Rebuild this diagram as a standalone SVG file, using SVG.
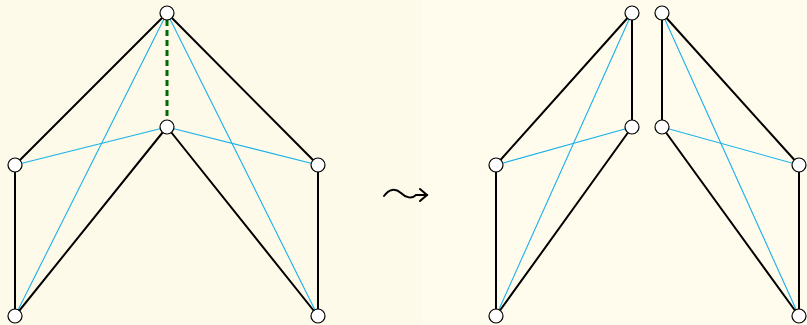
<svg xmlns="http://www.w3.org/2000/svg" width="807" height="325" viewBox="0 0 807 325">
<style>
.bk{stroke:#000;stroke-width:2;fill:none;stroke-linecap:round}
.bl{stroke:#1ab0e8;stroke-width:1.1;fill:none}
.gr{stroke:#006a00;stroke-width:3;fill:none;stroke-dasharray:6,4}
.nd{fill:#fff;stroke:#000;stroke-width:1.2}
</style>
<rect x="0" y="0" width="422" height="325" fill="#fefaea"/>
<rect x="422" y="0" width="385" height="325" fill="#fffcee"/>
<g id="connectors">
<line class="bl" x1="167" y1="13" x2="15" y2="316"/>
<line class="bl" x1="167" y1="13" x2="318" y2="316"/>
<line class="bl" x1="15" y1="165" x2="167" y2="127"/>
<line class="bl" x1="167" y1="127" x2="318" y2="165"/>
<line class="bk" x1="167" y1="13" x2="15" y2="165"/>
<line class="bk" x1="167" y1="13" x2="318" y2="165"/>
<line class="bk" x1="15" y1="165" x2="15" y2="316"/>
<line class="bk" x1="318" y1="165" x2="318" y2="316"/>
<line class="bk" x1="167" y1="127" x2="15" y2="316"/>
<line class="bk" x1="167" y1="127" x2="318" y2="316"/>
<line class="gr" x1="167" y1="20" x2="167" y2="120"/>
<line class="bl" x1="632" y1="13" x2="496" y2="316"/>
<line class="bl" x1="496" y1="165" x2="632" y2="127"/>
<line class="bk" x1="632" y1="13" x2="496" y2="165"/>
<line class="bk" x1="632" y1="13" x2="632" y2="127"/>
<line class="bk" x1="496" y1="165" x2="496" y2="316"/>
<line class="bk" x1="632" y1="127" x2="496" y2="316"/>
<line class="bl" x1="662" y1="13" x2="799" y2="316"/>
<line class="bl" x1="662" y1="127" x2="799" y2="165"/>
<line class="bk" x1="662" y1="13" x2="799" y2="165"/>
<line class="bk" x1="662" y1="13" x2="662" y2="127"/>
<line class="bk" x1="799" y1="165" x2="799" y2="316"/>
<line class="bk" x1="662" y1="127" x2="799" y2="316"/>
</g>
<g id="arrow">
<path class="bk" d="M384,196 C389,189 395,188 401,193 C406,198 412,199 416,195 L427,195"/>
<path class="bk" d="M420,189 L427,195 L420,201"/>
</g>
<g id="n1"><circle class="nd" cx="167" cy="13" r="7"/></g>
<g id="n2"><circle class="nd" cx="167" cy="127" r="7"/></g>
<g id="n3"><circle class="nd" cx="15" cy="165" r="7"/></g>
<g id="n4"><circle class="nd" cx="318" cy="165" r="7"/></g>
<g id="n5"><circle class="nd" cx="15" cy="316" r="7"/></g>
<g id="n6"><circle class="nd" cx="318" cy="316" r="7"/></g>
<g id="m1"><circle class="nd" cx="632" cy="13" r="7"/></g>
<g id="m2"><circle class="nd" cx="632" cy="127" r="7"/></g>
<g id="m3"><circle class="nd" cx="496" cy="165" r="7"/></g>
<g id="m4"><circle class="nd" cx="496" cy="316" r="7"/></g>
<g id="m5"><circle class="nd" cx="662" cy="13" r="7"/></g>
<g id="m6"><circle class="nd" cx="662" cy="127" r="7"/></g>
<g id="m7"><circle class="nd" cx="799" cy="165" r="7"/></g>
<g id="m8"><circle class="nd" cx="799" cy="316" r="7"/></g>
</svg>
